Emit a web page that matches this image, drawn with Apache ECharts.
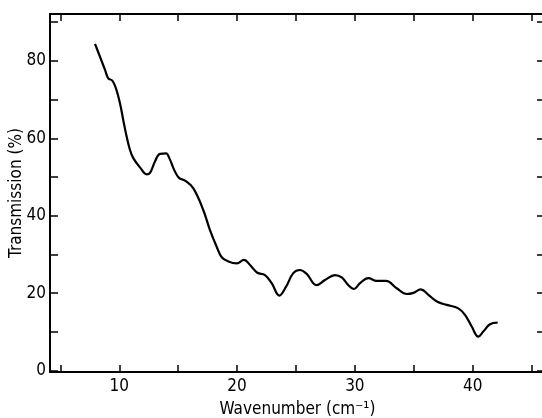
<!DOCTYPE html>
<html>
<head>
<meta charset="utf-8">
<script src="https://cdn.jsdelivr.net/npm/echarts@6/dist/echarts.min.js"></script>
<style>
html,body{margin:0;padding:0;background:#fff;}
#chart{width:542px;height:418px;}
</style>
</head>
<body>
<div id="chart"></div>
<script>
const wavenumber = [7.94,8.36,8.79,9.07,9.41,9.72,10.06,10.34,10.63,10.91,11.19,11.76,12.33,12.61,13.03,13.46,13.97,14.25,14.67,15.07,15.58,16.29,17.13,17.70,18.27,18.70,19.26,19.97,20.59,21.10,21.72,22.37,22.94,23.59,24.16,24.77,25.34,25.91,26.75,27.46,28.31,28.88,29.44,29.93,30.44,31.14,31.85,32.64,33.55,34.40,34.97,35.59,36.24,37.00,37.80,38.78,39.35,39.92,40.48,40.90,41.47,42.12];
const transmission = [84.4,81.1,77.7,75.5,74.9,72.9,69.1,64.7,60.4,57.0,54.9,52.5,50.7,51.1,54.0,56.0,56.1,54.9,51.8,49.8,49.1,47.1,41.5,36.3,32.0,29.3,28.2,27.7,28.6,27.3,25.3,24.7,22.6,19.4,21.7,25.2,26.0,25.0,22.1,23.4,24.7,24.1,22.1,21.1,22.6,23.9,23.2,23.2,21.3,19.8,20.1,21.0,19.6,17.8,17.0,16.1,14.4,11.4,8.8,10.1,12.0,12.4];
const xTicks = [5,10,15,20,25,30,35,40,45];
const xLabels = [10,20,30,40];
const yTicks = [0,10,20,30,40,50,60,70,80,90];
const yLabels = [0,20,40,60,80];
const xTitle = 'Wavenumber (cm⁻¹)';
const yTitle = 'Transmission (%)';

const FONT = '"DejaVu Sans Condensed","Liberation Sans Narrow","DejaVu Sans",sans-serif';
const chart = echarts.init(document.getElementById('chart'), null, {renderer:'canvas'});
const lineStyle = {color:'#000', width:2};
function xAx(pos, labels){
  return {
    type:'value', position:pos, min:4.12, max:46.14,
    axisLine:{show:true, onZero:false, lineStyle:lineStyle},
    axisTick:{show:true, inside:true, length:7, customValues:xTicks, lineStyle:{color:'#000', width:1.5}},
    axisLabel:{show:labels, customValues:xLabels, margin:6, color:'#000', fontSize:17, fontFamily:FONT},
    splitLine:{show:false},
    name: labels ? xTitle : '', nameLocation:'middle', nameGap:29, nameMoveOverlap:false,
    nameTextStyle:{color:'#000', fontSize:17, fontFamily:FONT}
  };
}
function yAx(pos, labels){
  return {
    type:'value', position:pos, min:-0.34, max:92.12,
    axisLine:{show:true, onZero:false, lineStyle:lineStyle},
    axisTick:{show:true, inside:true, length:8, customValues:yTicks, lineStyle:{color:'#000', width:1.5}},
    axisLabel:{show:labels, customValues:yLabels, margin:4, color:'#000', fontSize:17, fontFamily:FONT},
    splitLine:{show:false},
    name: labels ? yTitle : '', nameLocation:'middle', nameGap:25, nameRotate:90, nameMoveOverlap:false,
    nameTextStyle:{color:'#000', fontSize:17, fontFamily:FONT}
  };
}
chart.setOption({
  backgroundColor:'#fff',
  animation:false,
  grid:{left:50, right:-3, top:14, bottom:46, containLabel:false, outerBoundsMode:'none'},
  xAxis:[xAx('bottom', true), xAx('top', false)],
  yAxis:[yAx('left', true), yAx('right', false)],
  series:[{
    type:'line', xAxisIndex:0, yAxisIndex:0,
    data: wavenumber.map((x,i)=>[x, transmission[i]]),
    smooth:0.4, showSymbol:false, symbol:'none',
    lineStyle:{color:'#000', width:2.2}
  }]
});
</script>
</body>
</html>
